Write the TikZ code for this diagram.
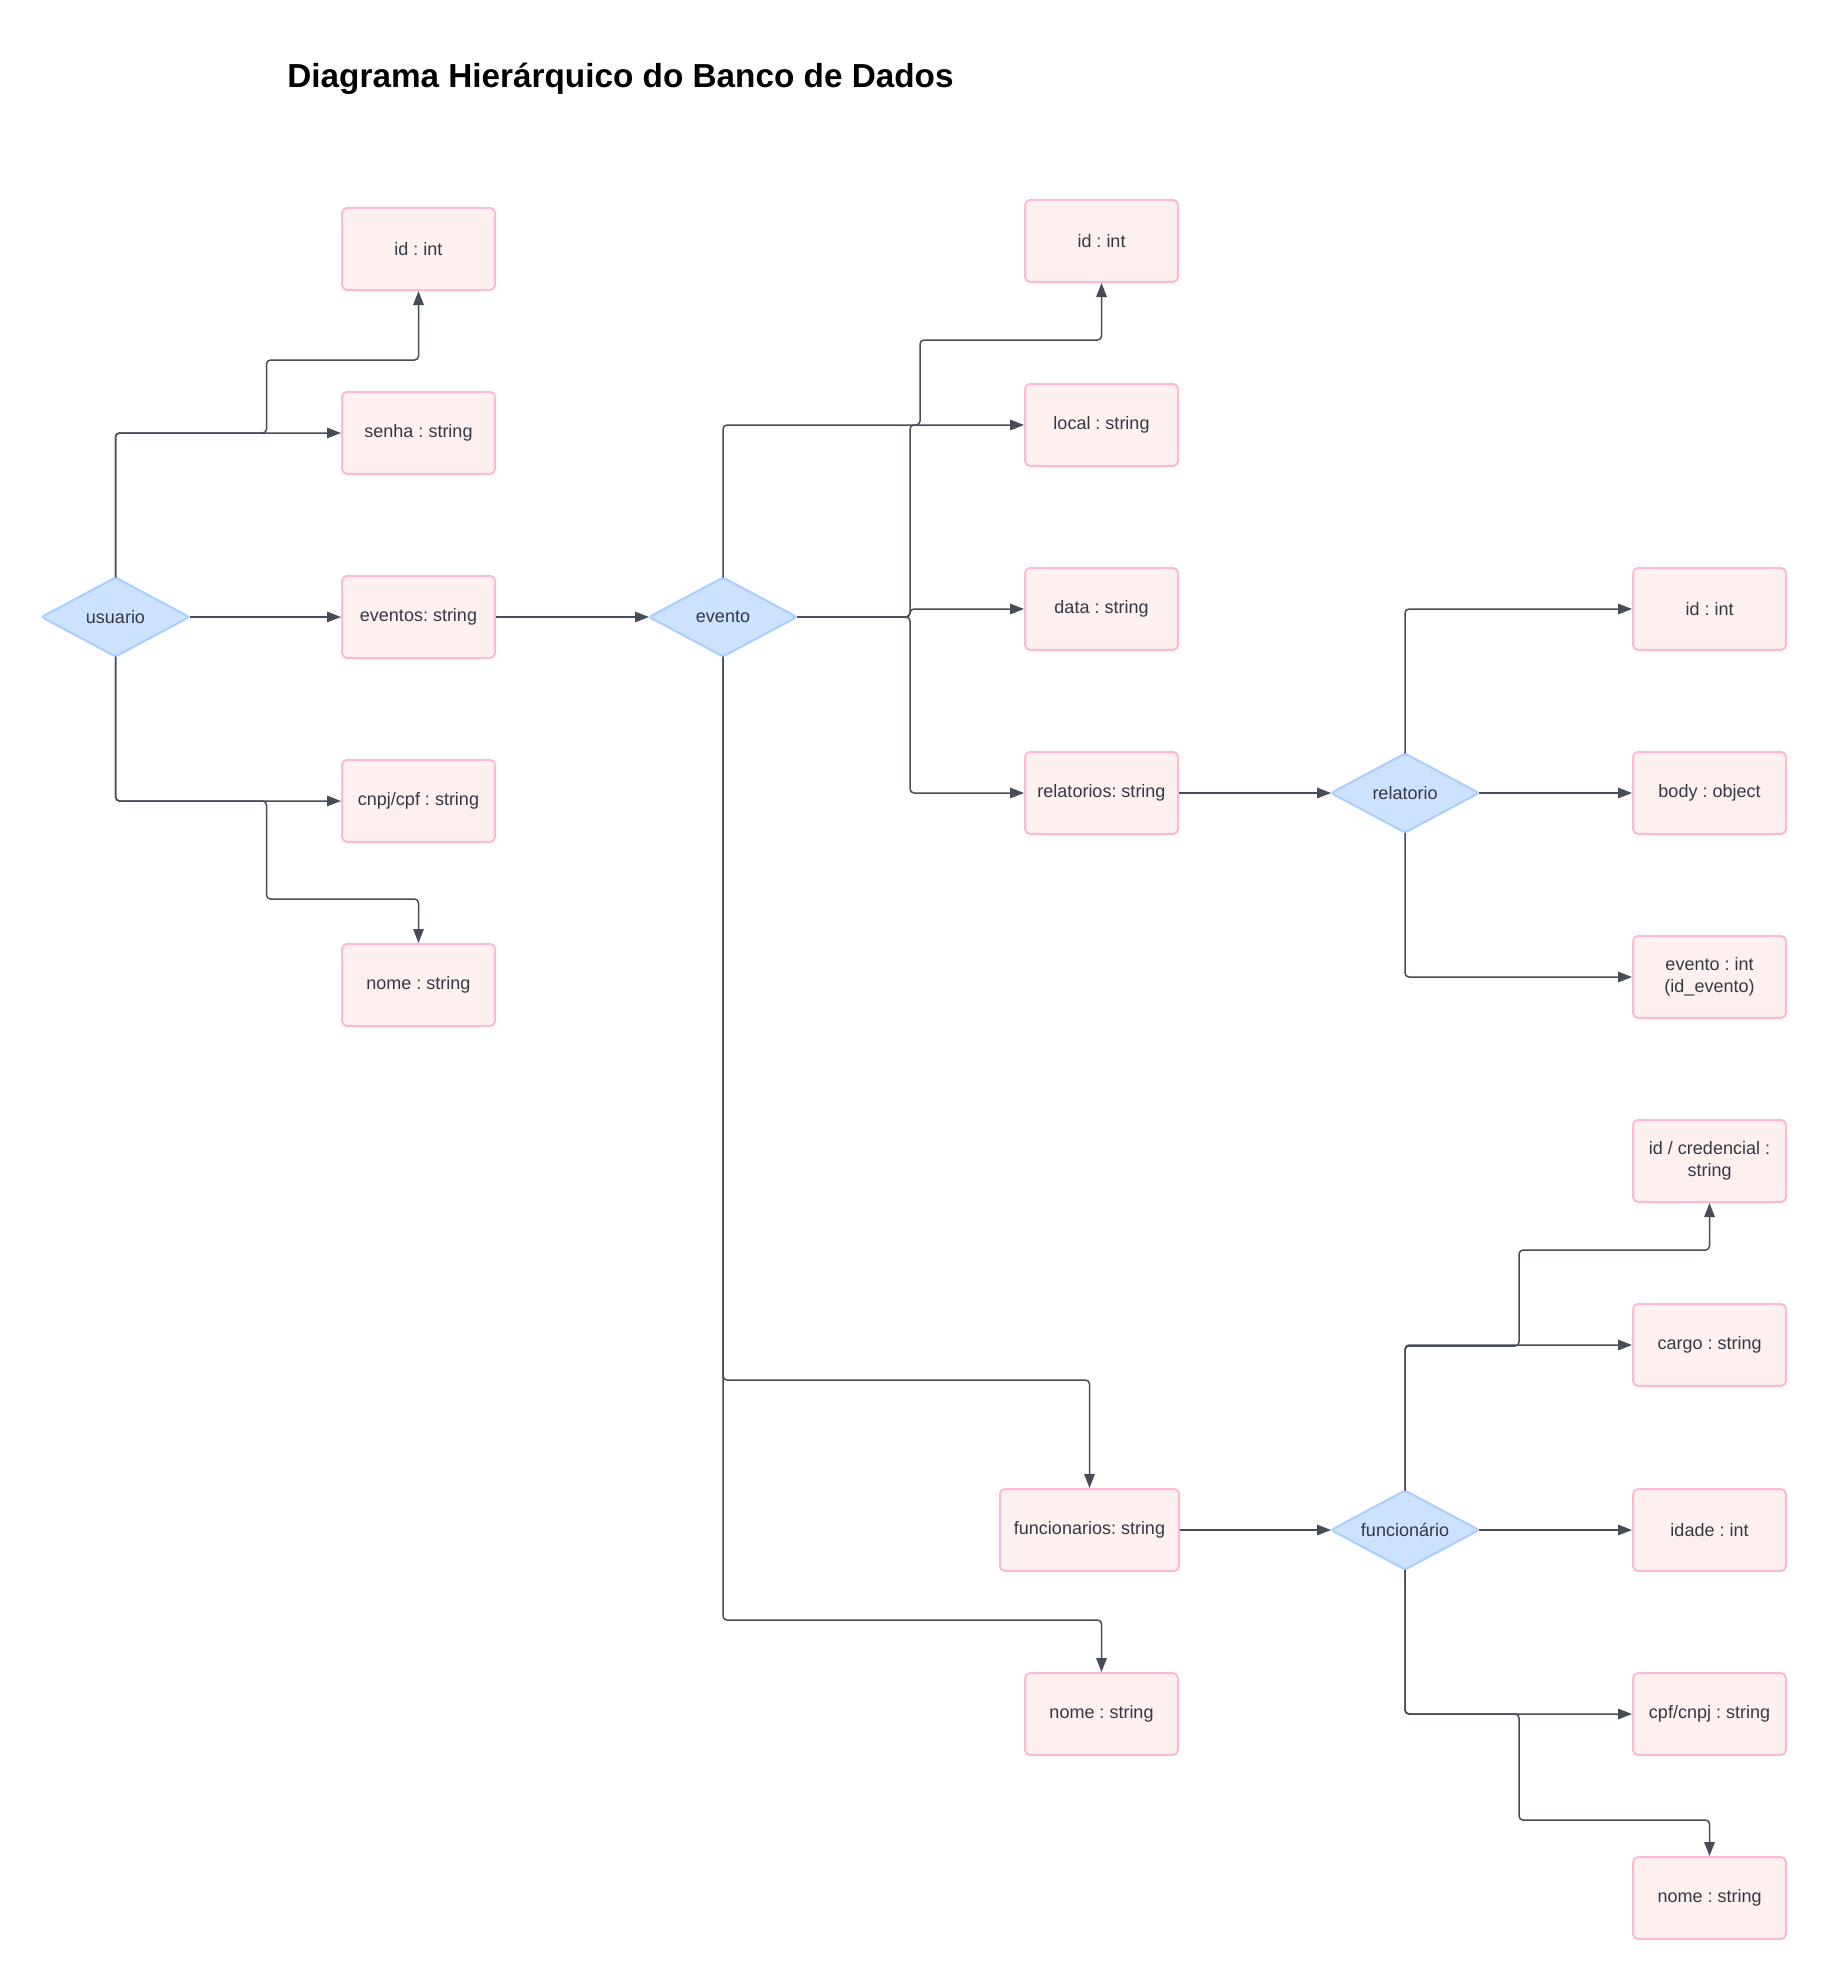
\documentclass[tikz,border=0pt]{standalone}
\usepackage{fontspec}
\setmainfont{Liberation Sans}
\usetikzlibrary{shapes.geometric,arrows.meta}
\frenchspacing

\definecolor{boxfill}{HTML}{FFF0F0}
\definecolor{boxline}{HTML}{FFB9D6}
\definecolor{dmdfill}{HTML}{CCE2FF}
\definecolor{dmdline}{HTML}{A9CDFF}
\definecolor{wire}{HTML}{474D57}
\definecolor{ink}{HTML}{333842}

\tikzset{
  x=1pt, y=-1pt,
  field/.style={rectangle, draw=boxline, fill=boxfill, line width=2pt,
    rounded corners=5pt, minimum width=153pt, minimum height=82pt,
    inner sep=2pt, align=center, text=ink,
    font=\fontsize{18}{21.5}\selectfont},
  entity/.style={diamond, draw=dmdline, fill=dmdfill, line width=2pt,
    rounded corners=3pt, aspect=1.87, inner sep=0pt, outer sep=0pt,
    minimum width=148pt, minimum height=79pt, text=ink,
    font=\fontsize{18}{21.5}\selectfont},
  link/.style={draw=wire, line width=1.5pt, rounded corners=4pt,
    -{Triangle[length=14pt,width=10.5pt]}}
}

\begin{document}
\begin{tikzpicture}
\fill[white] (0,0) rectangle (1826,1980);
\useasboundingbox (0,0) rectangle (1826,1980);

% title
\node[font=\fontsize{33.3}{40}\selectfont\bfseries, text=black] (title) at (620.5,78.5) {Diagrama Hierárquico do Banco de Dados};

% usuario
\node[entity] (u) at (115.5,617) {usuario};
\node[field] (uid)    at (418.5,249) {id : int};
\node[field] (usenha) at (418.5,433) {senha : string};
\node[field] (uev)    at (418.5,617) {eventos: string};
\node[field] (ucnpj)  at (418.5,801) {cnpj/cpf : string};
\node[field] (unome)  at (418.5,985) {nome : string};

% evento
\node[entity] (e) at (723,617) {evento};
\node[field] (eid)    at (1101.5,241) {id : int};
\node[field] (elocal) at (1101.5,425) {local : string};
\node[field] (edata)  at (1101.5,609) {data : string};
\node[field] (erel)   at (1101.5,793) {relatorios: string};
\node[field, minimum width=179pt] (efunc) at (1089.5,1530) {funcionarios: string};
\node[field] (enome)  at (1101.5,1714) {nome : string};

% relatorio
\node[entity] (r) at (1405,793) {relatorio};
\node[field] (rid)   at (1709.5,609) {id : int};
\node[field] (rbody) at (1709.5,793) {body : object};
\node[field] (rev)   at (1709.5,977) {evento : int\\(id\_evento)};

% funcionario
\node[entity] (f) at (1405,1530) {funcionário};
\node[field] (fcred)  at (1709.5,1161) {id / credencial :\\string};
\node[field] (fcargo) at (1709.5,1345) {cargo : string};
\node[field] (fidade) at (1709.5,1530) {idade : int};
\node[field] (fcpf)   at (1709.5,1714) {cpf/cnpj : string};
\node[field] (fnome)  at (1709.5,1898) {nome : string};

% usuario connectors
\draw[link] (u.north) |- (usenha.west);
\draw[link] (u.north) |- (266.5,433) -- (266.5,360) -| (uid.south);
\draw[link] (u.east) -- (uev.west);
\draw[link] (u.south) |- (ucnpj.west);
\draw[link] (u.south) |- (266.5,801) -- (266.5,899) -| (unome.north);
\draw[link] (uev.east) -- (e.west);

% evento connectors
\draw[link] (e.north) |- (920,425) -- (920,340) -| (eid.south);
\draw[link] (e.east) -- (910,617) |- (elocal.west);
\draw[link] (e.east) -- (910,617) |- (edata.west);
\draw[link] (e.east) -- (910,617) |- (erel.west);
\draw[link] (e.south) -- (723,1380) -| (efunc.north);
\draw[link] (e.south) -- (723,1620) -| (enome.north);
\draw[link] (erel.east) -- (r.west);
\draw[link] (efunc.east) -- (f.west);

% relatorio connectors
\draw[link] (r.north) |- (rid.west);
\draw[link] (r.east) -- (rbody.west);
\draw[link] (r.south) |- (rev.west);

% funcionario connectors
\draw[link] (f.north) |- (fcargo.west);
\draw[link] (f.north) |- (1519,1346) -- (1519,1250) -| (fcred.south);
\draw[link] (f.east) -- (fidade.west);
\draw[link] (f.south) |- (fcpf.west);
\draw[link] (f.south) |- (1519,1714) -- (1519,1820) -| (fnome.north);
\end{tikzpicture}
\end{document}
